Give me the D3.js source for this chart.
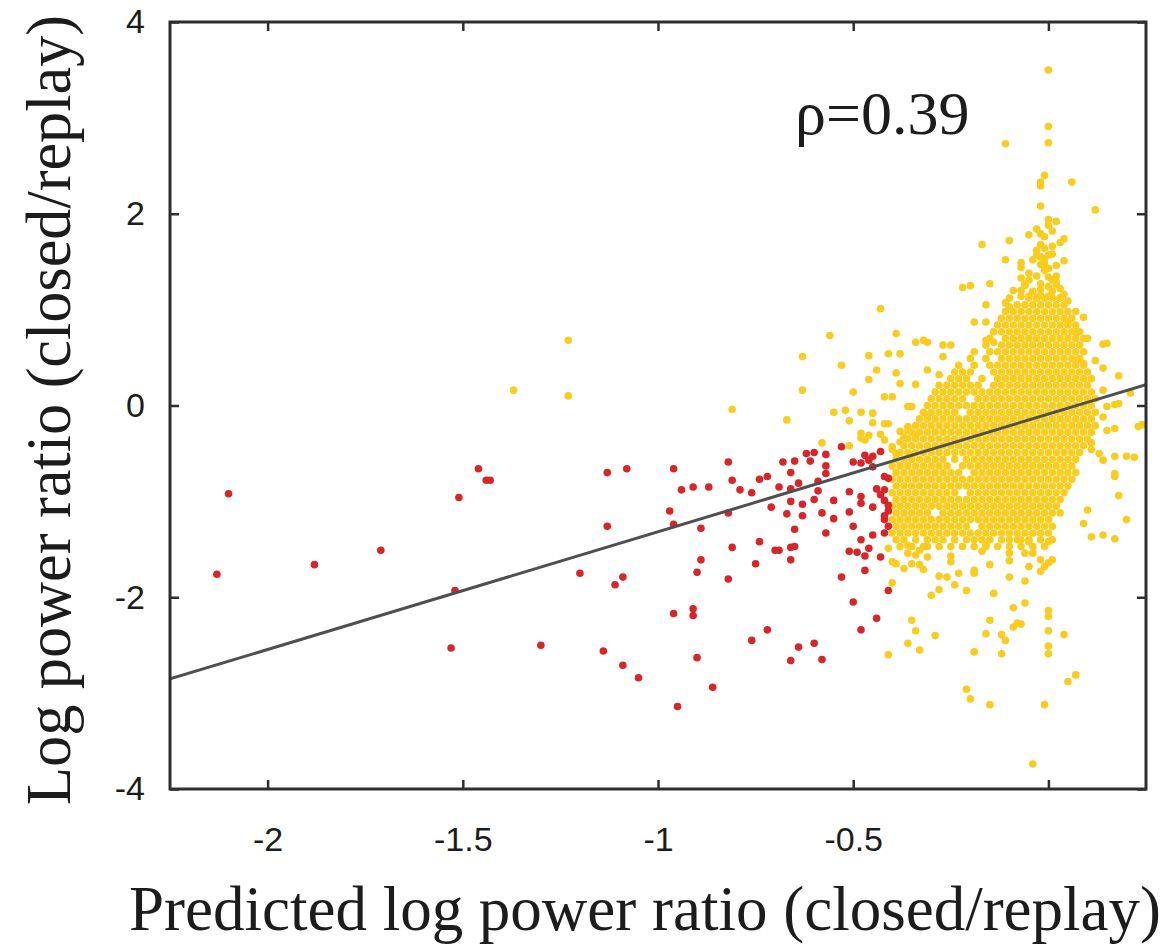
<!DOCTYPE html>
<html><head><meta charset="utf-8">
<script src="https://cdn.jsdelivr.net/npm/d3@7"></script>
<style>body{margin:0;background:#fff}</style>
</head><body>
<svg id="chart" width="1167" height="944"></svg>
<script>
const xTicks = [-2, -1.5, -1, -0.5, 0];
const xTickLabels = ["-2", "-1.5", "-1", "-0.5", ""];
const yTicks = [-4, -2, 0, 2, 4];
const yTickLabels = ["-4", "-2", "0", "2", "4"];
const xDomain = [-2.25, 0.25];
const yDomain = [-4, 4];
const fitLine = [[-2.25, -2.852], [0.25, 0.218]];
const annotation = "ρ=0.39";
const xTitle = "Predicted log power ratio (closed/replay)";
const yTitle = "Log power ratio (closed/replay)";

const redPoints = [
[-2.10,-0.92],[-1.46,-0.66],[-1.44,-0.78],[-1.43,-0.78],[-1.51,-0.96],[-2.13,-1.76],[-1.88,-1.66],[-1.71,-1.51],[-1.52,-1.93],[-1.53,-2.53],[-1.30,-2.50],
[-1.13,-0.70],[-1.08,-0.66],[-0.96,-0.66],[-0.82,-0.59],[-0.68,-0.59],[-0.65,-0.58],[-0.62,-0.50],[-0.60,-0.49],[-0.57,-0.51],[-0.53,-0.43],[-0.61,-0.58],[-0.66,-0.70],[-0.57,-0.63],[-0.57,-0.71],[-0.81,-0.78],[-0.79,-0.88],[-0.76,-0.91],[-0.74,-0.77],[-0.72,-0.74],[-0.94,-0.88],[-0.91,-0.85],[-0.87,-0.85],[-0.97,-1.10],[-0.96,-1.24],[-0.89,-1.28],[-0.82,-1.12],[-1.13,-1.26],[-1.20,-1.75],[-1.09,-1.79],[-1.11,-1.87],[-0.89,-1.61],[-0.90,-1.74],[-0.81,-1.48],[-0.74,-1.42],[-0.75,-1.65],[-0.82,-1.81],[-0.69,-0.85],[-0.66,-0.87],[-0.64,-0.81],[-0.59,-0.79],[-0.59,-0.89],[-0.66,-1.00],[-0.63,-1.03],[-0.60,-0.98],[-0.55,-0.99],[-0.71,-1.06],[-0.67,-1.13],[-0.63,-1.15],[-0.58,-1.12],[-0.55,-1.18],[-0.51,-0.90],[-0.51,-1.11],[-0.48,-0.95],[-0.48,-1.02],[-0.45,-1.06],[-0.44,-0.87],[-0.42,-0.88],[-0.42,-0.99],[-0.41,-0.76],[-0.41,-1.10],[-0.42,-1.19],[-0.42,-1.33],[-0.45,-1.35],[-0.50,-1.26],[-0.65,-1.29],[-0.57,-1.33],[-0.48,-1.40],[-0.46,-1.49],[-0.51,-1.52],[-0.49,-1.53],[-0.47,-1.57],[-0.43,-1.58],[-0.70,-1.51],[-0.69,-1.51],[-0.66,-1.48],[-0.65,-1.47],[-0.66,-1.61],[-0.47,-1.72],[-0.53,-1.79],[-0.41,-1.93],[-0.50,-2.05],[-0.44,-2.22],[-0.48,-2.34],[-0.96,-2.17],[-0.91,-2.12],[-0.91,-2.19],[-1.14,-2.56],[-1.09,-2.71],[-1.05,-2.84],[-0.90,-2.63],[-0.86,-2.94],[-0.95,-3.14],[-0.76,-2.45],[-0.72,-2.34],[-0.64,-2.52],[-0.60,-2.48],[-0.66,-2.66],[-0.58,-2.65],
[-0.50,-0.59],[-0.48,-0.60],[-0.46,-0.57],[-0.45,-0.53],[-0.43,-0.48],[-0.45,-0.64],[-0.47,-0.52],
[-0.42,-0.74],[-0.43,-0.93],[-0.41,-1.04],[-0.42,-1.15],[-0.41,-1.26]
];

const yellowPoints = [
[-1.23,0.68],[-1.37,0.16],[-1.23,0.10],[-0.81,-0.04],[-0.63,0.51],[-0.67,-0.15],[-0.63,0.16],[-0.56,0.73],[-0.43,1.01],[-0.39,0.75],[-0.34,0.66],[-0.32,0.68],[-0.46,0.52],[-0.41,0.54],[-0.38,0.54],[-0.53,0.42],[-0.44,0.37],[-0.46,0.27],[-0.39,0.34],[-0.38,0.23],[-0.34,0.22],[-0.50,0.14],[-0.42,0.09],[-0.40,0.09],[-0.36,-0.01],[-0.35,-0.01],[-0.55,-0.07],[-0.52,-0.05],[-0.48,-0.07],[-0.45,-0.08],[-0.51,-0.16],[-0.45,-0.18],[-0.42,-0.19],[-0.41,-0.19],[-0.36,-0.22],[-0.31,-0.10],[-0.48,-0.29],[-0.46,-0.31],[-0.48,-0.34],[-0.47,-0.36],[-0.43,-0.30],[-0.42,-0.36],[-0.38,-0.38],[-0.36,-0.26],[-0.34,-0.31],[-0.58,-0.39],[-0.51,-0.42],[-0.40,-0.43],[-0.39,-0.50],
[-0.41,-1.49],[-0.40,-1.85],[-0.41,-2.60],[-0.38,-0.27],[-0.37,-0.33],[-0.40,-0.46],[-0.35,-0.52],
[-0.31,0.66],[-0.31,0.37],[-0.28,0.32],[-0.27,0.51],[-0.27,0.63],[-0.25,0.63],[-0.16,0.68],[-0.14,0.66],[-0.19,0.87],[-0.16,0.87],[-0.16,1.05],[-0.22,1.23],[-0.20,1.25],[-0.15,1.27],
[0.00,3.50],[0.00,2.91],[0.00,2.74],[-0.11,2.73],[-0.01,2.40],[-0.02,2.33],[-0.02,2.29],[0.06,2.33],[-0.02,2.08],[0.12,2.04],[0.00,1.94],[0.02,1.92],[0.00,1.88],[-0.05,1.78],[-0.02,1.79],[-0.01,1.76],[0.04,1.74],[0.03,1.70],[-0.10,1.72],[-0.17,1.68],[-0.11,1.52],[-0.07,1.49],[-0.03,1.57],[-0.02,1.55],[0.00,1.57],[0.01,1.58],[0.04,1.51],[-0.01,1.48],[-0.02,1.68],[-0.01,1.64],[-0.07,1.44],[-0.02,1.47],[0.00,1.43],[-0.07,1.33],[-0.01,1.41],[0.00,1.34],[0.02,1.35],[0.02,1.29],[-0.06,1.25],[-0.07,1.20],[-0.02,1.27],[0.00,1.24],[0.02,1.26],[-0.06,1.27],[-0.05,1.38],
[-0.04,1.19],[-0.02,1.21],[0.01,1.19],[0.03,1.22],[-0.05,1.31],[-0.03,1.35],[0.01,1.31],[-0.04,1.52],[-0.01,1.53],[0.02,1.46],[-0.03,1.62],[0.01,1.66],[-0.03,1.84],[0.01,1.82],[-0.09,1.20],[0.04,1.16],[-0.10,1.12],[0.05,1.09],
[-0.11,1.07],[-0.10,1.03],[-0.07,1.14],[-0.05,1.14],[-0.03,1.12],[-0.02,1.15],[0.00,1.14],[0.03,1.12],[0.07,0.98],[0.09,0.92],[0.05,0.86],[0.07,0.77],[0.10,0.70],[0.14,0.64],[0.15,0.65],
[0.18,0.31],[0.07,0.47],[0.09,0.44],[0.12,0.47],[0.14,0.39],[0.17,0.01],[0.21,0.13],[0.24,-0.20],[0.23,-0.22],[0.15,-0.01],[0.14,-0.12],[0.15,-0.26],[0.17,-0.24],[0.11,-0.39],[0.11,-0.46],[0.14,-0.57],[0.17,-0.53],[0.20,-0.53],[0.22,-0.54],[0.17,-0.71],[0.17,-0.74],[0.18,-0.94],[0.10,-1.09],[0.20,-1.19],[0.09,-1.23],[0.11,-1.37],[0.14,-1.35],[0.17,-1.39],[0.14,0.16],[0.18,0.02],[0.13,-0.50],
[-0.36,-1.46],[-0.36,-1.54],[-0.34,-1.56],[-0.35,-1.65],[-0.33,-1.66],[-0.31,-1.58],[-0.31,-1.47],[-0.33,-1.51],[-0.40,-1.63],[-0.39,-1.65],[-0.37,-1.70],[-0.32,-1.71],[-0.28,-1.78],[-0.26,-1.79],[-0.23,-1.75],[-0.25,-1.63],[-0.25,-1.57],[-0.30,-1.98],[-0.28,-1.92],[-0.24,-1.87],[-0.21,-1.93],[-0.19,-1.72],[-0.19,-1.75],[-0.17,-1.52],[-0.16,-1.46],[-0.15,-1.66],[-0.14,-1.96],[-0.10,-1.54],[-0.10,-1.62],[-0.10,-1.79],[-0.06,-1.83],[-0.05,-1.68],[-0.06,-1.54],[-0.04,-1.54],[-0.02,-1.61],[0.00,-1.64],[-0.01,-1.68],[-0.02,-1.73],[0.01,-1.61],[0.00,-1.42],[-0.07,-1.40],[-0.05,-1.42],
[-0.09,-2.11],[-0.06,-2.06],[-0.35,-2.24],[-0.34,-2.35],[-0.29,-2.40],[-0.36,-2.48],[-0.33,-2.55],[-0.15,-2.24],[-0.16,-2.38],[-0.19,-2.57],[-0.12,-2.39],[-0.11,-2.45],[-0.12,-2.59],[-0.09,-2.31],[-0.08,-2.27],[-0.07,-2.28],[0.00,-2.14],[0.00,-2.20],[0.00,-2.35],[0.00,-2.51],[0.00,-2.59],[0.04,-2.39],[0.07,-2.81],[0.05,-2.88],[-0.21,-2.96],[-0.20,-3.06],[-0.15,-3.12],[-0.01,-3.12],[-0.04,-3.74]
];

// dense core of the yellow cloud, read row by row: [y, [x values]]
const yellowCoreRows = [
[1.12,[-0.05,-0.03,-0.01,0.01,0.03]],
[1.05,[-0.08,-0.06,-0.04,-0.02,0.00,0.02,0.04]],
[0.98,[-0.11,-0.09,-0.07,-0.05,-0.03,-0.01,0.01,0.03,0.05]],
[0.91,[-0.12,-0.10,-0.08,-0.06,-0.04,-0.02,0.00,0.02,0.04,0.06]],
[0.84,[-0.13,-0.11,-0.09,-0.07,-0.05,-0.03,-0.01,0.01,0.03,0.05,0.07]],
[0.77,[-0.14,-0.12,-0.10,-0.08,-0.06,-0.04,-0.02,0.00,0.02,0.04,0.06,0.08]],
[0.70,[-0.15,-0.11,-0.09,-0.07,-0.05,-0.03,-0.01,0.01,0.03,0.05,0.07,0.09]],
[0.63,[-0.16,-0.12,-0.10,-0.08,-0.06,-0.04,-0.02,0.00,0.02,0.04,0.06,0.08]],
[0.56,[-0.19,-0.15,-0.13,-0.11,-0.09,-0.07,-0.05,-0.03,-0.01,0.01,0.03,0.05,0.07,0.09]],
[0.49,[-0.20,-0.16,-0.12,-0.10,-0.08,-0.06,-0.04,-0.02,0.00,0.02,0.04,0.06,0.08]],
[0.42,[-0.23,-0.19,-0.15,-0.13,-0.11,-0.09,-0.07,-0.05,-0.03,-0.01,0.01,0.03,0.05,0.07,0.09]],
[0.35,[-0.24,-0.22,-0.20,-0.14,-0.12,-0.10,-0.08,-0.06,-0.04,-0.02,0.00,0.02,0.04,0.06,0.08,0.10]],
[0.28,[-0.25,-0.23,-0.21,-0.17,-0.13,-0.11,-0.09,-0.07,-0.05,-0.03,-0.01,0.01,0.03,0.05,0.07,0.09,0.11]],
[0.21,[-0.28,-0.26,-0.24,-0.22,-0.20,-0.18,-0.14,-0.12,-0.10,-0.08,-0.06,-0.04,-0.02,0.00,0.02,0.04,0.06,0.08,0.10]],
[0.14,[-0.29,-0.27,-0.25,-0.23,-0.21,-0.19,-0.17,-0.15,-0.13,-0.11,-0.09,-0.07,-0.05,-0.03,-0.01,0.01,0.03,0.05,0.07,0.09,0.11]],
[0.07,[-0.30,-0.28,-0.26,-0.24,-0.22,-0.18,-0.16,-0.14,-0.12,-0.10,-0.08,-0.06,-0.04,-0.02,0.00,0.02,0.04,0.06,0.08,0.10,0.12]],
[0.00,[-0.31,-0.29,-0.27,-0.25,-0.23,-0.21,-0.19,-0.17,-0.15,-0.13,-0.11,-0.09,-0.07,-0.05,-0.03,-0.01,0.01,0.03,0.05,0.07,0.09,0.11]],
[-0.07,[-0.32,-0.30,-0.28,-0.26,-0.24,-0.20,-0.18,-0.16,-0.14,-0.12,-0.10,-0.08,-0.06,-0.04,-0.02,0.00,0.02,0.04,0.06,0.08,0.10,0.12]],
[-0.14,[-0.33,-0.31,-0.29,-0.27,-0.25,-0.23,-0.21,-0.19,-0.17,-0.15,-0.13,-0.11,-0.09,-0.07,-0.05,-0.03,-0.01,0.01,0.03,0.05,0.07,0.09,0.11]],
[-0.21,[-0.34,-0.32,-0.30,-0.28,-0.26,-0.24,-0.22,-0.20,-0.18,-0.16,-0.14,-0.12,-0.10,-0.08,-0.06,-0.04,-0.02,0.00,0.02,0.04,0.06,0.08,0.10,0.12]],
[-0.28,[-0.35,-0.33,-0.31,-0.29,-0.27,-0.25,-0.23,-0.21,-0.19,-0.17,-0.15,-0.13,-0.11,-0.09,-0.07,-0.05,-0.03,-0.01,0.01,0.03,0.05,0.07,0.09,0.11]],
[-0.35,[-0.36,-0.34,-0.32,-0.30,-0.28,-0.26,-0.24,-0.22,-0.20,-0.18,-0.16,-0.14,-0.12,-0.10,-0.08,-0.06,-0.04,-0.02,0.00,0.02,0.04,0.06,0.08,0.10]],
[-0.42,[-0.37,-0.35,-0.33,-0.31,-0.29,-0.27,-0.25,-0.23,-0.21,-0.19,-0.17,-0.15,-0.13,-0.11,-0.09,-0.07,-0.05,-0.03,-0.01,0.01,0.03,0.05,0.07,0.09]],
[-0.49,[-0.38,-0.36,-0.34,-0.32,-0.30,-0.28,-0.26,-0.24,-0.22,-0.20,-0.18,-0.16,-0.14,-0.12,-0.10,-0.08,-0.06,-0.04,-0.02,0.00,0.02,0.04,0.06,0.08]],
[-0.56,[-0.39,-0.37,-0.35,-0.33,-0.31,-0.29,-0.27,-0.24,-0.21,-0.19,-0.17,-0.15,-0.13,-0.11,-0.09,-0.07,-0.05,-0.03,-0.01,0.01,0.03,0.05,0.07]],
[-0.63,[-0.40,-0.38,-0.36,-0.34,-0.32,-0.30,-0.28,-0.26,-0.22,-0.20,-0.18,-0.16,-0.14,-0.12,-0.10,-0.08,-0.06,-0.04,-0.02,0.00,0.02,0.04,0.06]],
[-0.70,[-0.39,-0.37,-0.35,-0.33,-0.31,-0.29,-0.27,-0.25,-0.23,-0.19,-0.17,-0.15,-0.13,-0.11,-0.09,-0.07,-0.05,-0.03,-0.01,0.01,0.03,0.05,0.07]],
[-0.77,[-0.40,-0.38,-0.36,-0.34,-0.32,-0.30,-0.28,-0.26,-0.24,-0.22,-0.20,-0.18,-0.16,-0.14,-0.12,-0.10,-0.08,-0.06,-0.04,-0.02,0.00,0.02,0.04,0.06]],
[-0.84,[-0.39,-0.37,-0.35,-0.33,-0.31,-0.29,-0.27,-0.25,-0.23,-0.21,-0.19,-0.17,-0.15,-0.13,-0.11,-0.09,-0.07,-0.05,-0.03,-0.01,0.01,0.03,0.05]],
[-0.91,[-0.40,-0.38,-0.36,-0.34,-0.32,-0.30,-0.28,-0.26,-0.24,-0.20,-0.18,-0.16,-0.14,-0.12,-0.10,-0.08,-0.06,-0.04,-0.02,0.00,0.02,0.04]],
[-0.98,[-0.39,-0.37,-0.35,-0.33,-0.31,-0.29,-0.27,-0.25,-0.23,-0.21,-0.19,-0.17,-0.15,-0.13,-0.11,-0.09,-0.07,-0.05,-0.03,-0.01,0.01,0.03]],
[-1.05,[-0.40,-0.38,-0.36,-0.34,-0.32,-0.30,-0.28,-0.26,-0.24,-0.22,-0.20,-0.18,-0.16,-0.14,-0.12,-0.10,-0.08,-0.06,-0.04,-0.02,0.00,0.02]],
[-1.12,[-0.39,-0.37,-0.35,-0.33,-0.31,-0.27,-0.25,-0.23,-0.21,-0.19,-0.17,-0.15,-0.13,-0.11,-0.09,-0.07,-0.05,-0.03,-0.01,0.01,0.03]],
[-1.19,[-0.40,-0.38,-0.36,-0.34,-0.32,-0.30,-0.28,-0.26,-0.24,-0.22,-0.20,-0.18,-0.16,-0.14,-0.12,-0.10,-0.08,-0.06,-0.04,-0.02,0.00]],
[-1.26,[-0.39,-0.37,-0.35,-0.33,-0.31,-0.29,-0.27,-0.25,-0.23,-0.21,-0.17,-0.15,-0.13,-0.11,-0.09,-0.07,-0.05,-0.03,-0.01,0.01]],
[-1.33,[-0.40,-0.38,-0.36,-0.34,-0.32,-0.30,-0.28,-0.26,-0.24,-0.22,-0.20,-0.18,-0.16,-0.14,-0.12,-0.10,-0.08,-0.06,-0.04,-0.02,0.00]],
[-1.40,[-0.39,-0.37,-0.34,-0.31,-0.29,-0.27,-0.24,-0.21,-0.19,-0.17,-0.15,-0.12,-0.10,-0.08,-0.05,-0.02,0.01]],
[-1.47,[-0.38,-0.35,-0.32,-0.28,-0.25,-0.22,-0.19,-0.16,-0.13,-0.10,-0.07,-0.04,-0.01]]
];

const colors = { yellow: "#f8cd1f", red: "#d6262a", line: "#4f4f4f", frame: "#2e2e2e", text: "#1c1c1c" };

(function draw() {
  const svg = d3.select("#chart");
  const pL = 170, pR = 1146, pT = 22, pB = 789;
  const x = d3.scaleLinear().domain(xDomain).range([pL, pR]);
  const y = d3.scaleLinear().domain(yDomain).range([pB, pT]);

  svg.append("defs").append("clipPath").attr("id", "plotclip")
    .append("rect").attr("x", pL).attr("y", pT).attr("width", pR - pL).attr("height", pB - pT);

  const plot = svg.append("g").attr("clip-path", "url(#plotclip)");
  const corePoints = yellowCoreRows.flatMap(([yy, xs]) => xs.map(xx => [xx, yy]));
  const allYellow = corePoints.concat(yellowPoints);
  const R = 3.8;

  plot.append("g").selectAll("circle").data(allYellow).join("circle")
    .attr("cx", d => x(d[0])).attr("cy", d => y(d[1])).attr("r", R).attr("fill", colors.yellow);
  plot.append("g").selectAll("circle").data(redPoints).join("circle")
    .attr("cx", d => x(d[0])).attr("cy", d => y(d[1])).attr("r", R).attr("fill", colors.red);

  plot.append("path").datum(fitLine)
    .attr("d", d3.line().x(d => x(d[0])).y(d => y(d[1])))
    .attr("stroke", colors.line).attr("stroke-width", 3).attr("fill", "none");

  const tickLen = 9;
  function styleAxis(g) {
    g.select(".domain").remove();
    g.selectAll(".tick line").attr("stroke", colors.frame).attr("stroke-width", 2.5);
    g.selectAll(".tick text").attr("font-family", "'Liberation Sans', Arial, Helvetica, sans-serif")
      .attr("font-size", 34).attr("fill", colors.text);
  }
  svg.append("g").attr("transform", `translate(0,${pB})`)
    .call(d3.axisBottom(x).tickValues(xTicks).tickSizeInner(-tickLen).tickSizeOuter(0).tickPadding(38)
      .tickFormat((d, i) => xTickLabels[i]))
    .call(styleAxis);
  svg.append("g").attr("transform", `translate(0,${pT})`)
    .call(d3.axisTop(x).tickValues(xTicks).tickSizeInner(-tickLen).tickSizeOuter(0).tickFormat(""))
    .call(styleAxis);
  svg.append("g").attr("transform", `translate(${pL},0)`)
    .call(d3.axisLeft(y).tickValues(yTicks).tickSizeInner(-tickLen).tickSizeOuter(0).tickPadding(25)
      .tickFormat((d, i) => yTickLabels[i]))
    .call(styleAxis);
  svg.append("g").attr("transform", `translate(${pR},0)`)
    .call(d3.axisRight(y).tickValues(yTicks).tickSizeInner(-tickLen).tickSizeOuter(0).tickFormat(""))
    .call(styleAxis);

  svg.append("rect").attr("x", pL).attr("y", pT).attr("width", pR - pL).attr("height", pB - pT)
    .attr("fill", "none").attr("stroke", colors.frame).attr("stroke-width", 3);

  const serif = "'Liberation Serif', 'Times New Roman', Times, serif";
  svg.append("text").attr("x", 795).attr("y", 134).attr("font-family", serif).attr("font-size", 62)
    .attr("fill", colors.text).text(annotation);

  svg.append("text").attr("x", 645).attr("y", 930).attr("text-anchor", "middle")
    .attr("font-family", serif).attr("font-size", 63).attr("fill", colors.text)
    .attr("textLength", 1032).attr("lengthAdjust", "spacingAndGlyphs").text(xTitle);

  svg.append("text").attr("transform", "translate(70,410) rotate(-90)").attr("text-anchor", "middle")
    .attr("font-family", serif).attr("font-size", 63).attr("fill", colors.text)
    .attr("textLength", 790).attr("lengthAdjust", "spacingAndGlyphs").text(yTitle);
})();
</script>
</body></html>
